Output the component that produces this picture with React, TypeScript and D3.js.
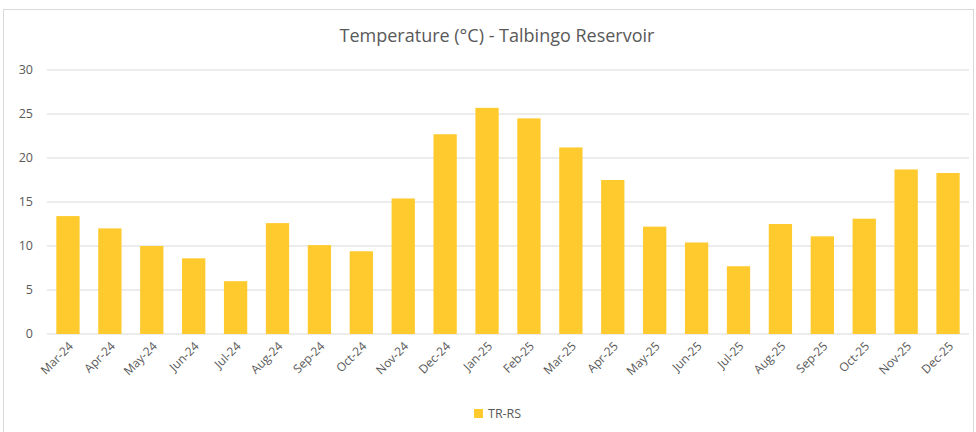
import React from "react";
import * as d3 from "d3";

const categories = ["Mar-24","Apr-24","May-24","Jun-24","Jul-24","Aug-24","Sep-24","Oct-24","Nov-24","Dec-24","Jan-25","Feb-25","Mar-25","Apr-25","May-25","Jun-25","Jul-25","Aug-25","Sep-25","Oct-25","Nov-25","Dec-25"];
const values = [13.4,12.0,10.0,8.6,6.0,12.6,10.1,9.4,15.4,22.7,25.7,24.5,21.2,17.5,12.2,10.4,7.7,12.5,11.1,13.1,18.7,18.3];
const yTicks = [0,5,10,15,20,25,30];
const seriesName = "TR-RS";
const title = "Temperature (°C) - Talbingo Reservoir";

const W = 976, H = 432;
const M = { left: 47, right: 7, top: 70, bottom: 98 };
const BAR = "#FFCA2E";
const TEXT = "#595959";
const FONT = "'Open Sans', 'Liberation Sans', sans-serif";

export default function App() {
  const x = d3.scaleBand<string>().domain(categories).range([M.left, W - M.right]).paddingInner(0.444).paddingOuter(0.222);
  const y = d3.scaleLinear().domain([0, 30]).range([H - M.bottom, M.top]);
  return (
    <div style={{ position: "fixed", left: 0, top: 0 }}>
      <svg width={W} height={H} style={{ display: "block", background: "#fff" }}>
        <rect x={3.5} y={9.5} width={970} height={430} fill="#fff" stroke="#D9D9D9" />
        <text x={497} y={42} textAnchor="middle" fontFamily={FONT} fontSize={18} fill={TEXT}>{title}</text>
        {yTicks.map(t => (
          <g key={t}>
            <line x1={M.left} x2={W - M.right} y1={y(t)} y2={y(t)} stroke="#D9D9D9" strokeWidth={1} />
            <text x={33} y={y(t)} dy="0.35em" textAnchor="end" fontFamily={FONT} fontSize={12.5} fill={TEXT}>{t}</text>
          </g>
        ))}
        {values.map((v, i) => (
          <rect key={i} x={x(categories[i])} y={y(v)} width={x.bandwidth()} height={y(0) - y(v)} fill={BAR} />
        ))}
        {categories.map(c => {
          const cx = (x(c) as number) + x.bandwidth() / 2 + 3;
          const cy = y(0) + 10;
          return (
            <text key={c} transform={`translate(${cx},${cy}) rotate(-45)`} textAnchor="end" dy="0.35em" fontFamily={FONT} fontSize={12} fill={TEXT}>{c}</text>
          );
        })}
        <rect x={474} y={409} width={9} height={9} fill={BAR} />
        <text x={488} y={413.5} dy="0.35em" fontFamily={FONT} fontSize={12.5} fill={TEXT}>{seriesName}</text>
      </svg>
    </div>
  );
}
